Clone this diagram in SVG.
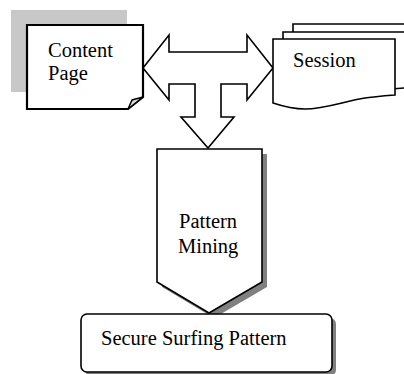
<svg xmlns="http://www.w3.org/2000/svg" width="404" height="374" viewBox="0 0 404 374">
<style>
.t{font-family:"Liberation Serif","Times New Roman",serif;font-size:20.5px;fill:#000}
.s{fill:#fff;stroke:#000;stroke-width:1.6;stroke-linejoin:miter}
.sh{fill:#808080}
</style>
<rect width="404" height="374" fill="#fff"/>
<g id="connectors">
<polygon class="s" points="143,68 169,35 169,52 247,52 247,35 273,68 247,100 247,84 221,84 221,117 234,117 208,148 181,117 195,117 195,84 169,84 169,100"/>
</g>
<g id="content-page">
<rect x="11" y="10" width="116" height="82" fill="#c8c8c8"/>
<path d="M27,25 H143 V97 L128,109 H27 Z" fill="#fff" stroke="#000" stroke-width="2.2"/>
<path d="M128,109 L132,100 L143,97 Z" fill="#ddd" stroke="#000" stroke-width="1.5" stroke-linejoin="round"/>
<text class="t" x="48" y="57">Content</text>
<text class="t" x="48" y="80">Page</text>
</g>
<g id="session">
<path class="s" transform="translate(20,-15)" d="M273,39 H395 V95 C380,96 375,97 365,98 C345,101 325,109 305,109 C292,109 282,106 273,103 Z"/>
<path class="s" transform="translate(10,-7)" d="M273,39 H395 V95 C380,96 375,97 365,98 C345,101 325,109 305,109 C292,109 282,106 273,103 Z"/>
<path class="s" d="M273,39 H395 V95 C380,96 375,97 365,98 C345,101 325,109 305,109 C292,109 282,106 273,103 Z"/>
<text class="t" x="293" y="67">Session</text>
</g>
<g id="pattern-mining">
<polygon class="sh" points="162,154 267,154 267,287 214,318 162,287"/>
<polygon class="s" points="157,149 262,149 262,282 209,313 157,282"/>
<text class="t" x="179" y="228">Pattern</text>
<text class="t" x="178" y="253">Mining</text>
</g>
<g id="secure-surfing-pattern">
<rect class="sh" x="85" y="318" width="251" height="58" rx="6"/>
<rect class="s" x="81" y="314" width="251" height="58" rx="6"/>
<text class="t" x="101" y="345">Secure Surfing Pattern</text>
</g>
</svg>
